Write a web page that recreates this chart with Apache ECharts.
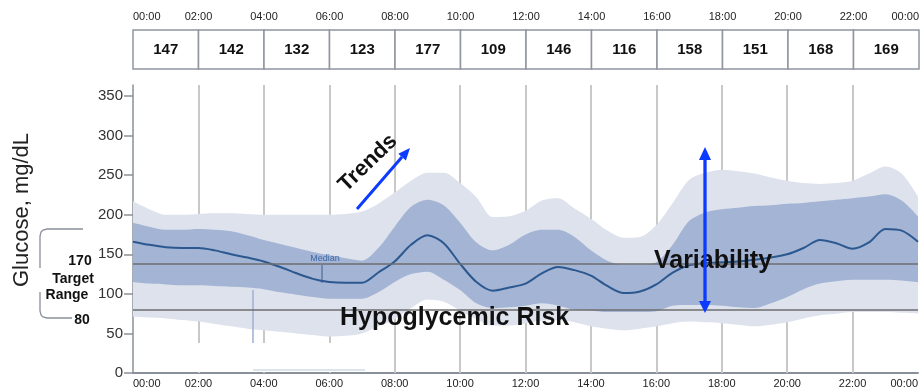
<!DOCTYPE html>
<html>
<head>
<meta charset="utf-8">
<script src="https://cdn.jsdelivr.net/npm/echarts@6/dist/echarts.min.js"></script>
<style>html,body{margin:0;padding:0;background:#fff}#c{width:924px;height:392px}</style>
</head>
<body>
<div id="c"></div>
<script>
// ---- data ----
const hours = [0,0.5,1,1.5,2,2.5,3,3.5,4,4.5,5,5.5,6,6.5,7,7.5,8,8.5,9,9.5,10,10.5,11,11.5,12,12.5,13,13.5,14,14.5,15,15.5,16,16.5,17,17.5,18,18.5,19,19.5,20,20.5,21,21.5,22,22.5,23,23.5,24];
const p95 = [217,207,200,200,201,202,202,201,200,200,200,200,200,201,204,214,228,243,253,253,240,222,197,198,205,218,221,208,195,180,171,172,187,215,244,253,257,255,252,247,243,240,239,240,243,252,261,252,223];
const p75 = [190,185,181,181,182,181,179,174,168,163,158,153,149,145,142,158,185,210,219,212,190,165,155,162,175,181,181,172,155,142,137,137,140,162,192,203,207,209,211,212,214,215,217,219,221,223,226,218,198];
const median = [166,162,159,158,158,155,150,146,141,134,126,119,115,114,114,127,141,162,174,164,138,115,104,108,113,126,134,130,123,110,101,103,112,127,136,139,140,141,143,146,150,158,168,164,157,165,182,180,166];
const p25 = [115,113,112,111,111,110,109,108,106,102,99,96,94,94,94,102,115,125,128,118,105,88,82,83,85,88,85,80,79,77,77,77,78,85,86,86,85,83,82,88,96,106,113,116,118,118,118,117,115];
const p5 = [71,70,69,67,65,62,59,56,54,52,50,48,46,47,50,59,68,82,93,90,79,68,60,60,63,66,67,64,59,56,54,56,59,63,65,64,63,61,59,61,64,69,73,75,77,77,77,76,75];
const gridHours = [2,4,6,8,10,12,14,16,18,20,22];
const refLines = [138, 80];
const slotStart = [0,2,4,6,8,10,12,14,16,18,20,22];
const slotValues = [147,142,132,123,177,109,146,116,158,151,168,169];
const yTicks = [0,50,100,150,200,250,300,350];

// ---- chart ----
const FONT = 'Liberation Sans, Arial, sans-serif';
const chart = echarts.init(document.getElementById('c'));
const pad = h => String(Number(h) % 24).padStart(2,'0') + ':00';
const diff = (a,b) => a.map((v,i) => v - b[i]);
const blue = '#0b3bff';

const option = {
  animation: false,
  grid: [
    {left: 133, right: 6, top: 85, bottom: 19},
    {left: 133, right: 5, top: 30, height: 39}
  ],
  xAxis: [
    {gridIndex: 0, type: 'category', data: hours, boundaryGap: false,
     axisLine: {show: true, lineStyle: {color: '#8a9099', width: 2}},
     axisTick: {show: false}, splitLine: {show: false},
     axisLabel: {interval: 3, formatter: pad, color: '#222', fontSize: 11, fontFamily: FONT, margin: 5,
                 alignMinLabel: 'left', alignMaxLabel: 'right'}},
    {gridIndex: 1, type: 'value', min: 0, max: 24, interval: 2, position: 'top',
     axisLine: {show: false}, axisTick: {show: false}, splitLine: {show: false},
     axisLabel: {formatter: pad, color: '#222', fontSize: 11, fontFamily: FONT, margin: 8,
                 alignMinLabel: 'left', alignMaxLabel: 'right'}}
  ],
  yAxis: [
    {gridIndex: 0, type: 'value', min: 0, max: 364, interval: 50,
     axisLine: {show: true, lineStyle: {color: '#8a9099', width: 1.5}},
     axisTick: {show: true, length: 9, lineStyle: {color: '#8a9099', width: 1.5}},
     splitLine: {show: false},
     axisLabel: {showMaxLabel: false, color: '#333', fontSize: 15, fontFamily: FONT, margin: 10,
                 formatter: v => yTicks.indexOf(v) >= 0 ? String(v) : ''}},
    {gridIndex: 1, type: 'value', min: 0, max: 1, show: false}
  ],
  series: [
    {type: 'line', name: 'p5', data: p5, stack: 'outer', smooth: 0.3, symbol: 'none',
     lineStyle: {width: 0, opacity: 0}, z: 2, silent: true,
     markLine: {z: 1, silent: true, symbol: ['none','none'], label: {show: false},
       lineStyle: {color: '#c8c8c8', width: 2, type: 'solid'},
       data: gridHours.map(h => ({xAxis: hours.indexOf(h)}))}},
    {type: 'line', name: 'p95', data: diff(p95, p5), stack: 'outer', smooth: 0.3, symbol: 'none',
     lineStyle: {width: 0, opacity: 0}, areaStyle: {color: '#dde2ed', opacity: 1}, z: 2, silent: true},
    {type: 'line', name: 'p25', data: p25, stack: 'inner', smooth: 0.3, symbol: 'none',
     lineStyle: {width: 0, opacity: 0}, z: 3, silent: true},
    {type: 'line', name: 'p75', data: diff(p75, p25), stack: 'inner', smooth: 0.3, symbol: 'none',
     lineStyle: {width: 0, opacity: 0}, areaStyle: {color: '#a4b4d4', opacity: 1}, z: 3, silent: true},
    {type: 'line', name: 'Median', data: median, smooth: 0.3, symbol: 'none',
     lineStyle: {color: '#2c5890', width: 2}, z: 4, silent: true,
     markLine: {z: 5, silent: true, symbol: ['none','none'], label: {show: false},
       lineStyle: {color: '#6e6e6e', width: 1.5, type: 'solid'},
       data: refLines.map(v => ({yAxis: v}))}},
    {type: 'custom', xAxisIndex: 1, yAxisIndex: 1, silent: true,
     data: slotStart.map((s,i) => [s, s+2, slotValues[i]]),
     encode: {x: [0,1]},
     renderItem: function (params, api) {
       const a = api.coord([api.value(0), 1]);
       const b = api.coord([api.value(1), 0]);
       return {type: 'group', children: [
         {type: 'rect', shape: {x: a[0], y: a[1], width: b[0]-a[0], height: b[1]-a[1]},
          style: {fill: '#fff', stroke: '#9095a0', lineWidth: 1.5}},
         {type: 'text', style: {text: String(api.value(2)), x: (a[0]+b[0])/2, y: (a[1]+b[1])/2,
           align: 'center', verticalAlign: 'middle', fontSize: 15, fontWeight: 'bold', fontFamily: FONT, fill: '#111'}}
       ]};
     }}
  ],
  graphic: [
    {type: 'rect', z: 1.5, silent: true, shape: {x: 135, y: 343, width: 235, height: 29}, style: {fill: '#fff'}},
    {type: 'line', z: 2.5, silent: true, shape: {x1: 253, y1: 290, x2: 253, y2: 343}, style: {stroke: '#9db0d2', lineWidth: 1.5}},
    {type: 'line', z: 1.6, silent: true, shape: {x1: 253, y1: 370, x2: 365, y2: 370}, style: {stroke: '#d3dbea', lineWidth: 1.5}},
    {type: 'text', z: 10, x: 22, y: 210, rotation: Math.PI/2,
     style: {text: 'Glucose, mg/dL', fontSize: 22, fontFamily: FONT, fill: '#222', align: 'center', verticalAlign: 'middle'}},
    {type: 'polyline', z: 10, silent: true,
     shape: {points: [[83,229],[47,229],[43,230],[41,232],[40,236],[40,268]]},
     style: {stroke: '#8a9099', lineWidth: 1.3, fill: null}},
    {type: 'polyline', z: 10, silent: true,
     shape: {points: [[40,292],[40,311],[41,315],[43,317],[47,318],[72,318]]},
     style: {stroke: '#8a9099', lineWidth: 1.3, fill: null}},
    {type: 'text', z: 10, x: 80, y: 261, style: {text: '170', fontSize: 14, fontWeight: 'bold', fontFamily: FONT, fill: '#111', align: 'center', verticalAlign: 'middle'}},
    {type: 'text', z: 10, x: 73, y: 279, style: {text: 'Target', fontSize: 14, fontWeight: 'bold', fontFamily: FONT, fill: '#111', align: 'center', verticalAlign: 'middle'}},
    {type: 'text', z: 10, x: 67, y: 295, style: {text: 'Range', fontSize: 14, fontWeight: 'bold', fontFamily: FONT, fill: '#111', align: 'center', verticalAlign: 'middle'}},
    {type: 'text', z: 10, x: 82, y: 320, style: {text: '80', fontSize: 14, fontWeight: 'bold', fontFamily: FONT, fill: '#111', align: 'center', verticalAlign: 'middle'}},
    {type: 'text', z: 10, x: 325, y: 259, style: {text: 'Median', fontSize: 9, fontFamily: FONT, fill: '#3f6aa6', align: 'center', verticalAlign: 'middle'}},
    {type: 'line', z: 10, silent: true, shape: {x1: 322, y1: 265, x2: 322, y2: 283}, style: {stroke: '#3d5f8f', lineWidth: 1}},
    {type: 'text', z: 10, x: 368, y: 163, rotation: 44*Math.PI/180,
     style: {text: 'Trends', fontSize: 22, fontWeight: 'bold', fontFamily: FONT, fill: '#111', align: 'center', verticalAlign: 'middle'}},
    {type: 'line', z: 11, shape: {x1: 357, y1: 209, x2: 402, y2: 157}, style: {stroke: blue, lineWidth: 3}},
    {type: 'polygon', z: 11, shape: {points: [[410,148],[405.9,160.4],[398.3,153.8]]}, style: {fill: blue}},
    {type: 'text', z: 10, x: 713, y: 261,
     style: {text: 'Variability', fontSize: 25, fontWeight: 'bold', fontFamily: FONT, fill: '#111', align: 'center', verticalAlign: 'middle'}},
    {type: 'text', z: 10, x: 340, y: 318,
     style: {text: 'Hypoglycemic Risk', fontSize: 25, fontWeight: 'bold', fontFamily: FONT, fill: '#111', align: 'left', verticalAlign: 'middle'}},
    {type: 'line', z: 11, shape: {x1: 705, y1: 158, x2: 705, y2: 303}, style: {stroke: blue, lineWidth: 3.3}},
    {type: 'polygon', z: 11, shape: {points: [[705,147],[711,160],[699,160]]}, style: {fill: blue}},
    {type: 'polygon', z: 11, shape: {points: [[705,313],[711,301],[699,301]]}, style: {fill: blue}}
  ]
};
chart.setOption(option);
</script>
</body>
</html>
